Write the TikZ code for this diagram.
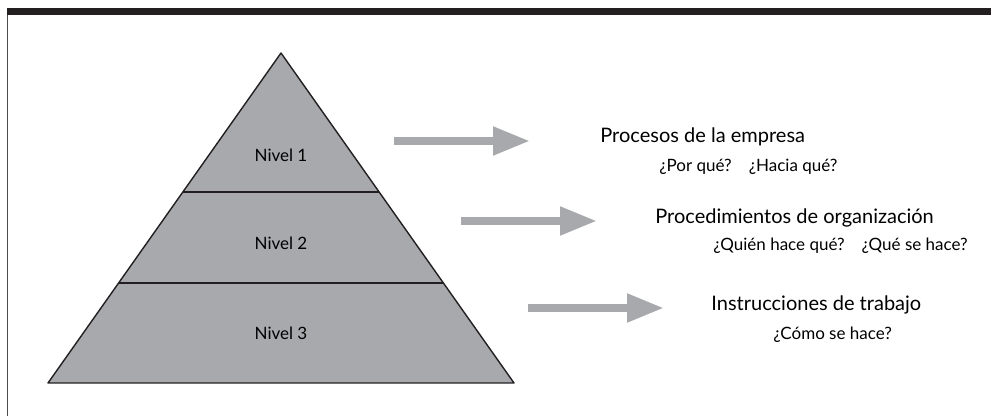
\documentclass[tikz,border=0pt]{standalone}
\usepackage{fontspec}
\setmainfont{Lato}
\usetikzlibrary{arrows.meta,calc}
\definecolor{piedra}{RGB}{168,169,173}
\definecolor{barra}{RGB}{35,31,32}
\tikzset{
  flecha/.style={draw=piedra, line width=4pt, -{Triangle[length=18.5pt,width=13.5pt]}},
  titulo/.style={anchor=west, inner sep=0pt, font=\fontsize{10}{12}\selectfont},
  pregunta/.style={anchor=west, inner sep=0pt, font=\fontsize{8.5}{10}\selectfont},
  nivel/.style={inner sep=0pt, font=\fontsize{8.5}{10}\selectfont}
}
\begin{document}
\begin{tikzpicture}[x=0.5pt,y=-0.5pt]
   \useasboundingbox (0,0) rectangle (991,416);

   \fill[barra] (7,8) rectangle (991,15);
   \draw[barra!80, line width=0.8pt] (7.5,15) -- (7.5,416);

   \coordinate (apex) at (281,53);
   \coordinate (bl) at (48,383);
   \coordinate (br) at (514,383);

   \filldraw[fill=piedra, draw=barra, line width=0.7pt, line join=round]
       (apex) -- (br) -- (bl) -- cycle;

   \foreach \t in {139,230} {
       \draw[barra, line width=0.7pt]
           ($(apex)!{\t/330}!(bl)$) -- ($(apex)!{\t/330}!(br)$);
   }

   \foreach \y/\lab in {155/1, 243/2, 333/3} {
       \node[nivel] (nivel\lab) at (281,\y) {Nivel \lab};
   }

   \foreach \i/\x/\y in {1/394/141, 2/461/221, 3/528/308} {
       \coordinate (ini\i) at (\x,\y);
       \coordinate (fin\i) at (\x+136,\y);
       \draw[flecha] (ini\i) -- (fin\i);
   }

   \node[titulo] (proc) at (600,137) {Procesos de la empresa};
   \node[pregunta] (procq) at (659,167) {¿Por qué?\quad ¿Hacia qué?};

   \node[titulo] (orga) at (655,218) {Procedimientos de organización};
   \node[pregunta] (orgaq) at (713,246) {¿Quién hace qué?\quad ¿Qué se hace?};

   \node[titulo] (trab) at (711,305) {Instrucciones de trabajo};
   \node[pregunta] (trabq) at (773,335) {¿Cómo se hace?};

\end{tikzpicture}
\end{document}
